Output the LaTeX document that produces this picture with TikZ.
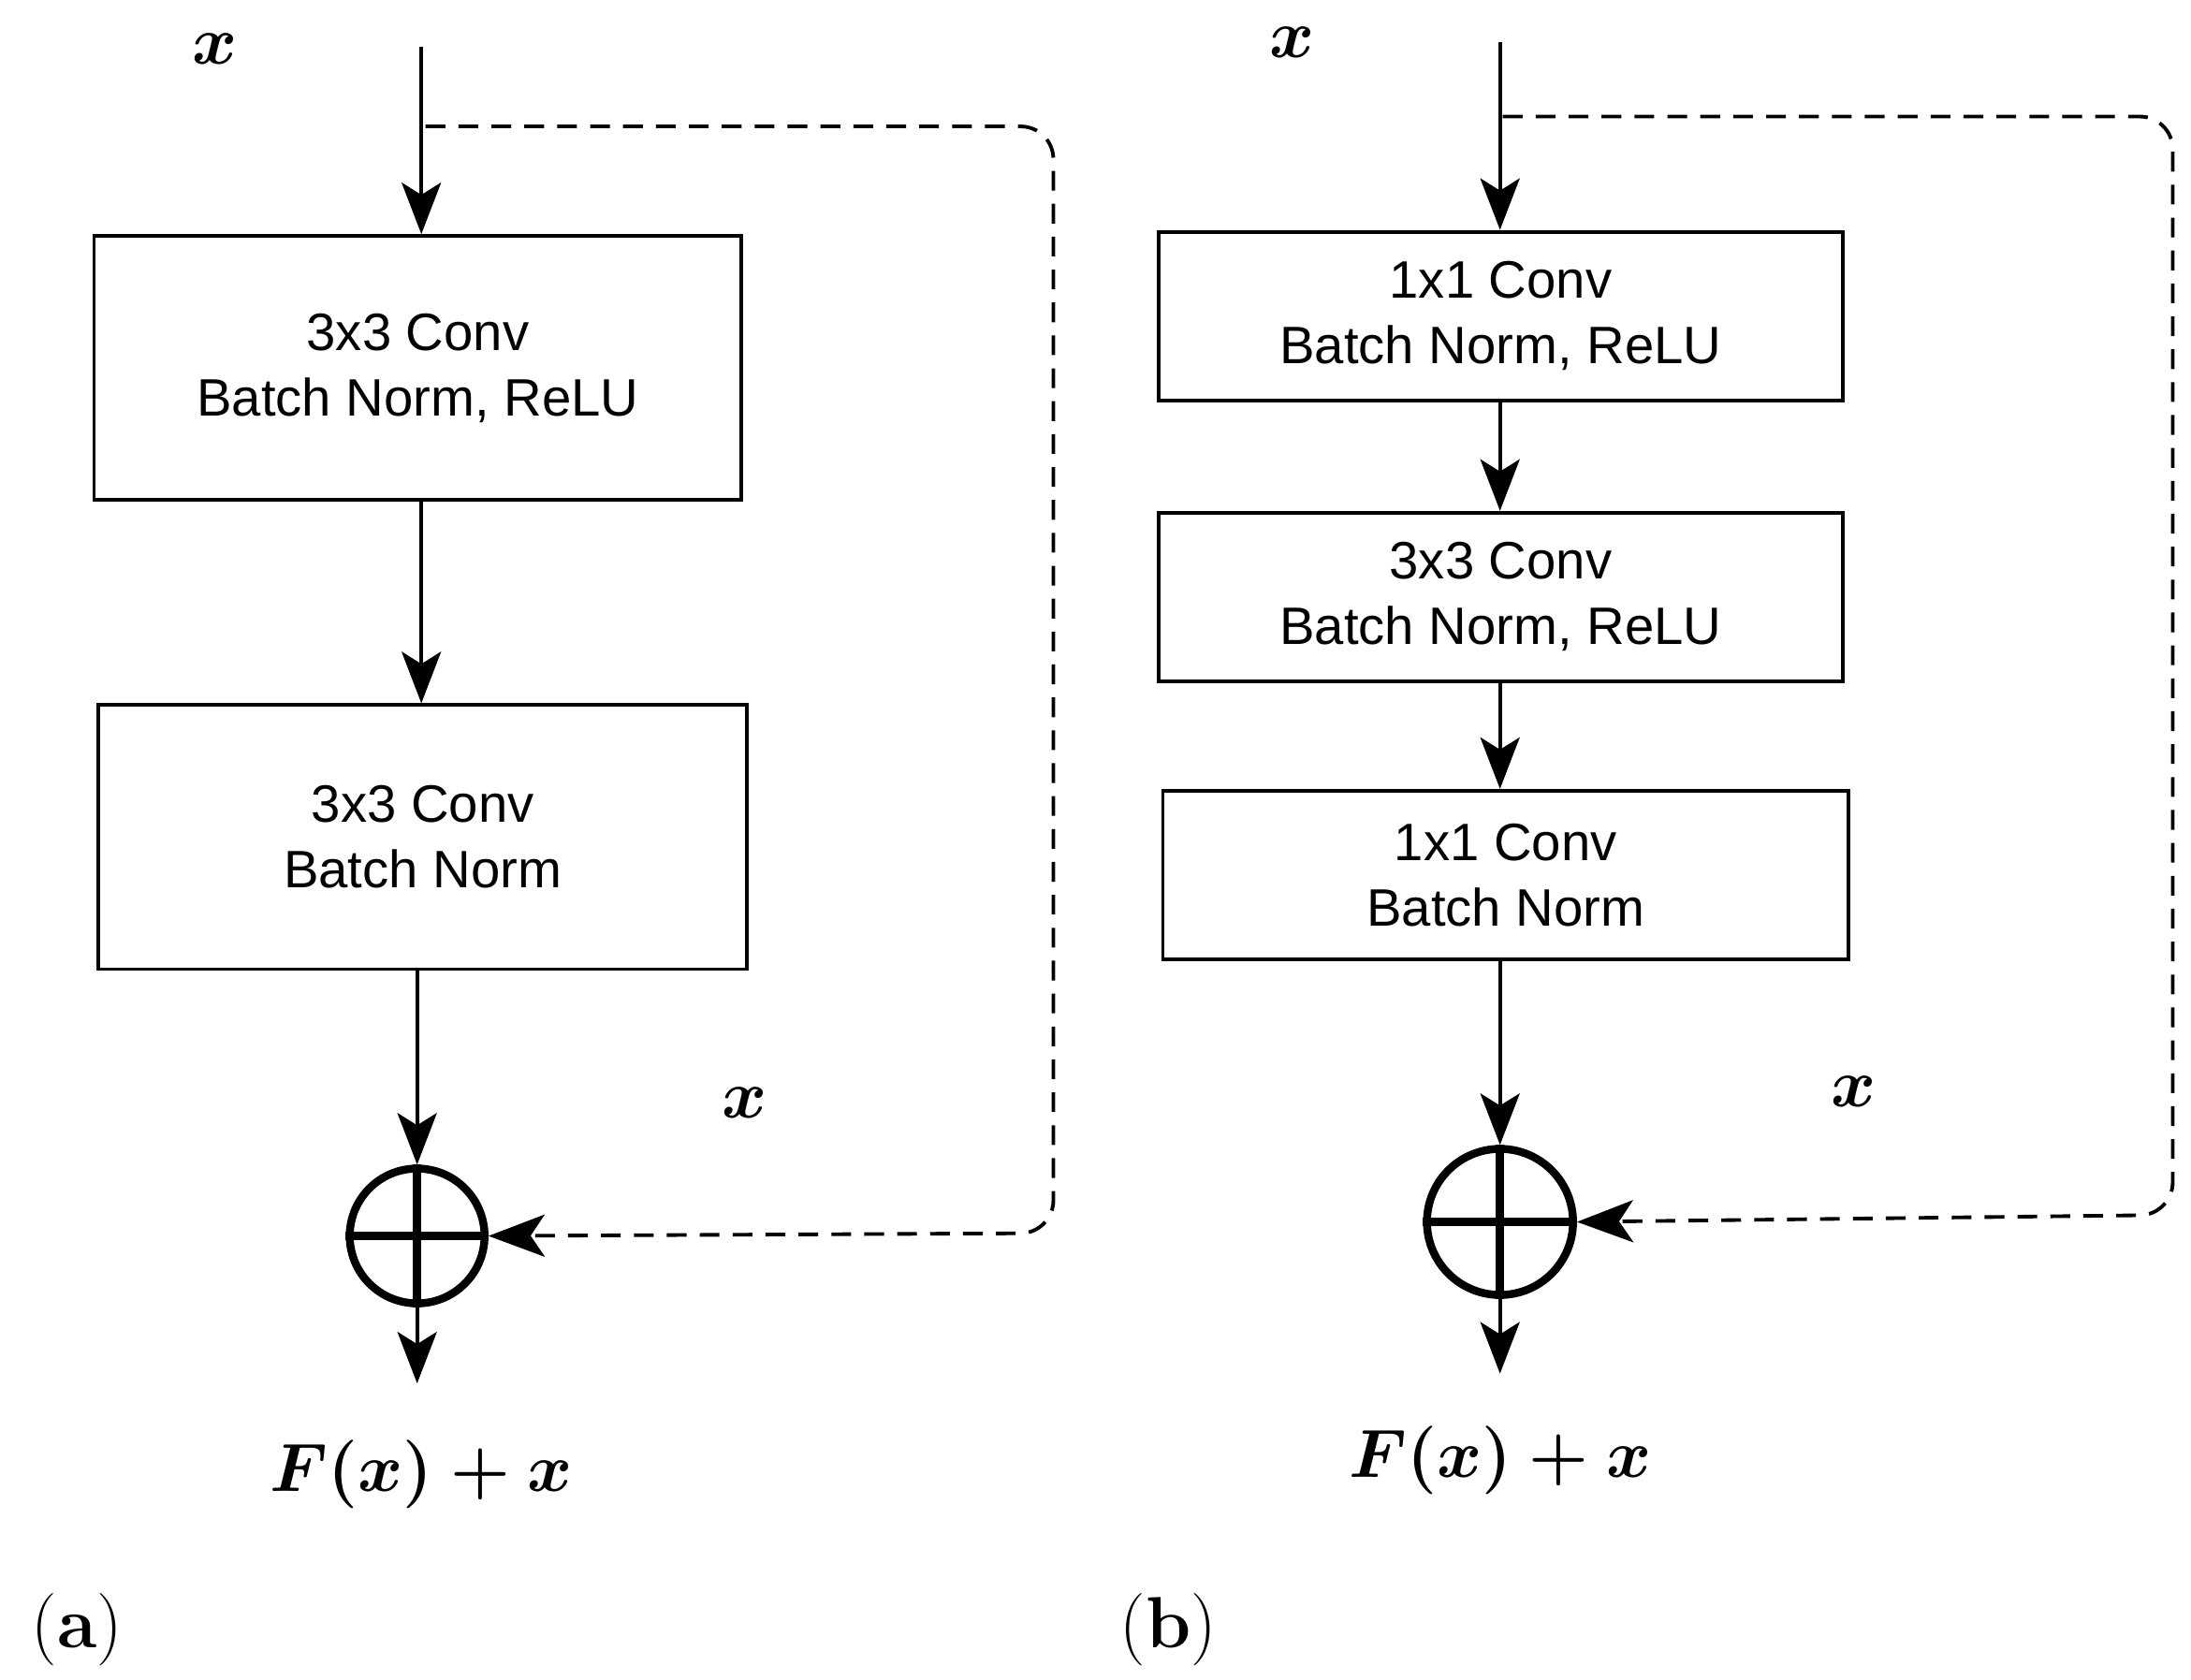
\documentclass[tikz,border=0pt]{standalone}
\usepackage{fontspec}
\setmainfont{Liberation Sans}
\newfontfamily\serifx{Latin Modern Roman}
\usetikzlibrary{arrows.meta}
\begin{document}
\begin{tikzpicture}[x=0.015cm,y=-0.015cm,
  box/.style={draw,line width=1.1pt,inner sep=0pt,align=center,font=\fontsize{16}{20}\selectfont},
  arr/.style={line width=1.1pt,-{Stealth[length=0.55cm,width=0.42cm,inset=0.13cm]}},
  skip/.style={line width=1.1pt,dash pattern=on 6pt off 4pt,rounded corners=0.35cm},
  lab/.style={font=\fontsize{21}{25}\selectfont\boldmath},
  sum/.style={circle,draw,line width=2.4pt,inner sep=0pt}]
\useasboundingbox (0,0) rectangle (1560,1196);
% (a)
\node[lab] (xa) at (153,35) {$x$};
\coordinate (ta) at (300,33);
\node[box,minimum width=461*0.015cm,minimum height=188*0.015cm] (a1) at (297.5,262) {3x3 Conv\\Batch Norm, ReLU};
\node[box,minimum width=462*0.015cm,minimum height=188*0.015cm] (a2) at (301,596) {3x3 Conv\\Batch Norm};
\node[sum,minimum size=96*0.015cm] (sa) at (297,880) {};
\draw[line width=2.4pt] (sa.north) -- (sa.south) (sa.west) -- (sa.east);
\coordinate (oa) at (297,985);
\node[lab] (fa) at (300,1050) {$F(x)+x$};
\node[lab] (xa2) at (530,785) {$x$};
\node[font=\serifx\fontsize{22}{26}\selectfont] (la) at (55,1160) {(\textbf{a})};
\draw[arr] (ta) -- (a1.north -| ta);
\draw[arr] (a1.south -| ta) -- (a2.north -| ta);
\draw[arr] (a2.south -| sa) -- (sa.north);
\draw[arr] (sa.south) -- (oa);
\draw[skip,-{Stealth[length=0.6cm,width=0.45cm,inset=0.15cm]}] (303,90) -- (750,90) -- (750,878) -- (sa.east);
% (b)
\node[lab] (xb) at (920,30) {$x$};
\coordinate (tb) at (1068,30);
\node[box,minimum width=487*0.015cm,minimum height=120*0.015cm] (b1) at (1068.5,225) {1x1 Conv\\Batch Norm, ReLU};
\node[box,minimum width=487*0.015cm,minimum height=120*0.015cm] (b2) at (1068.5,425) {3x3 Conv\\Batch Norm, ReLU};
\node[box,minimum width=488*0.015cm,minimum height=120*0.015cm] (b3) at (1072,623) {1x1 Conv\\Batch Norm};
\node[sum,minimum size=104*0.015cm] (sb) at (1068,870) {};
\draw[line width=2.4pt] (sb.north) -- (sb.south) (sb.west) -- (sb.east);
\coordinate (ob) at (1068,978);
\node[lab] (fb) at (1068,1040) {$F(x)+x$};
\node[lab] (xb2) at (1320,777) {$x$};
\node[font=\serifx\fontsize{22}{26}\selectfont] (lb) at (832,1160) {(\textbf{b})};
\draw[arr] (tb) -- (b1.north -| tb);
\draw[arr] (b1.south -| tb) -- (b2.north -| tb);
\draw[arr] (b2.south -| tb) -- (b3.north -| tb);
\draw[arr] (b3.south -| sb) -- (sb.north);
\draw[arr] (sb.south) -- (ob);
\draw[skip,-{Stealth[length=0.6cm,width=0.45cm,inset=0.15cm]}] (1070,83) -- (1547,83) -- (1547,865) -- (sb.east);
\end{tikzpicture}
\end{document}
